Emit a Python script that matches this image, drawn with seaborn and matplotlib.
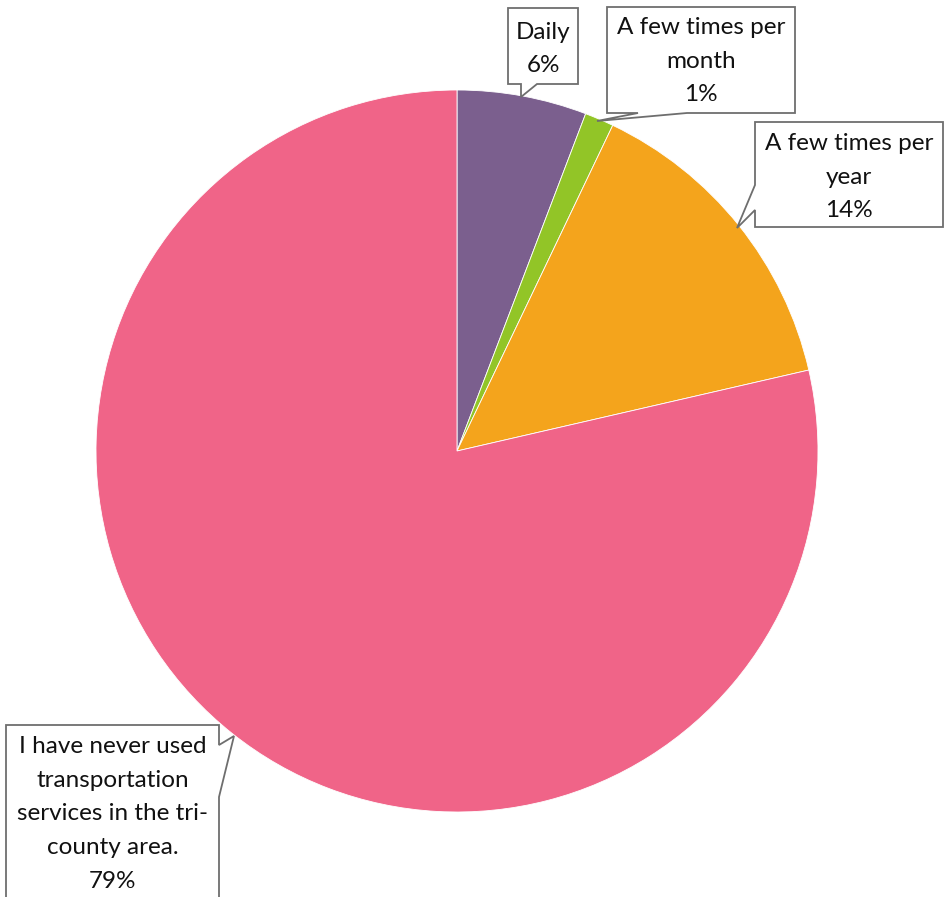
import matplotlib
matplotlib.use("Agg")
import matplotlib.pyplot as plt
from matplotlib.patches import Polygon
import seaborn as sns

# data
categories = ["Daily", "A few times per\nmonth", "A few times per\nyear",
              "I have never used\ntransportation\nservices in the tri-\ncounty area."]
shares = [5.8, 1.3, 14.3, 78.6]
colors = ["#7B5F8E", "#92C527", "#F4A41C", "#F06488"]

W, H = 945, 897

sns.set_theme(style="white")
plt.rcParams['font.family'] = ['Lato', 'DejaVu Sans']

fig = plt.figure(figsize=(W / 100, H / 100), dpi=100)
ax = fig.add_axes([0, 0, 1, 1])

cx, cy, r = 457, H - 451, 361
ax.pie(shares, colors=colors, startangle=90, counterclock=False,
       center=(cx, cy), radius=r, frame=True,
       wedgeprops=dict(edgecolor="white", linewidth=0.6))
ax.set_xlim(0, W)
ax.set_ylim(0, H)
ax.axis("off")


def callout(box, side, base, tip, text, ty=None):
	# box = (x0, y0, x1, y1) in pixel coords (y downwards), pointer on one side
	x0, y0, x1, y1 = box
	b0, b1 = base
	if side == "bottom":
		pts = [(x0, y0), (x1, y0), (x1, y1), (b1, y1), tip, (b0, y1), (x0, y1)]
	elif side == "left":
		pts = [(x0, y0), (x1, y0), (x1, y1), (x0, y1), (x0, b1), tip, (x0, b0)]
	else:  # right
		pts = [(x0, y0), (x1, y0), (x1, b0), tip, (x1, b1), (x1, y1), (x0, y1)]
	pts = [(x, H - y) for x, y in pts]
	ax.add_patch(Polygon(pts, closed=True, facecolor="white", edgecolor="#6E6E6E",
	                     linewidth=1.3, zorder=5))
	if ty is None:
		ty = (y0 + y1) / 2
	ax.text((x0 + x1) / 2, H - ty, text, ha="center", va="center",
	        fontsize=17.5, linespacing=1.75, color="#111111", zorder=6)


labels = [f"{c}\n{v:.0f}%" for c, v in zip(categories, shares)]
callout((508, 8, 578, 84), "bottom", (521, 537), (521, 97), labels[0], ty=49)
callout((607, 7, 795, 113), "bottom", (638, 687), (597, 121), labels[1], ty=61)
callout((755, 122, 943, 227), "left", (185, 210), (737, 228), labels[2], ty=177)
callout((6, 725, 219, 930), "right", (745, 797), (234, 736), labels[3], ty=814)

fig.savefig("out.png", dpi=100)
